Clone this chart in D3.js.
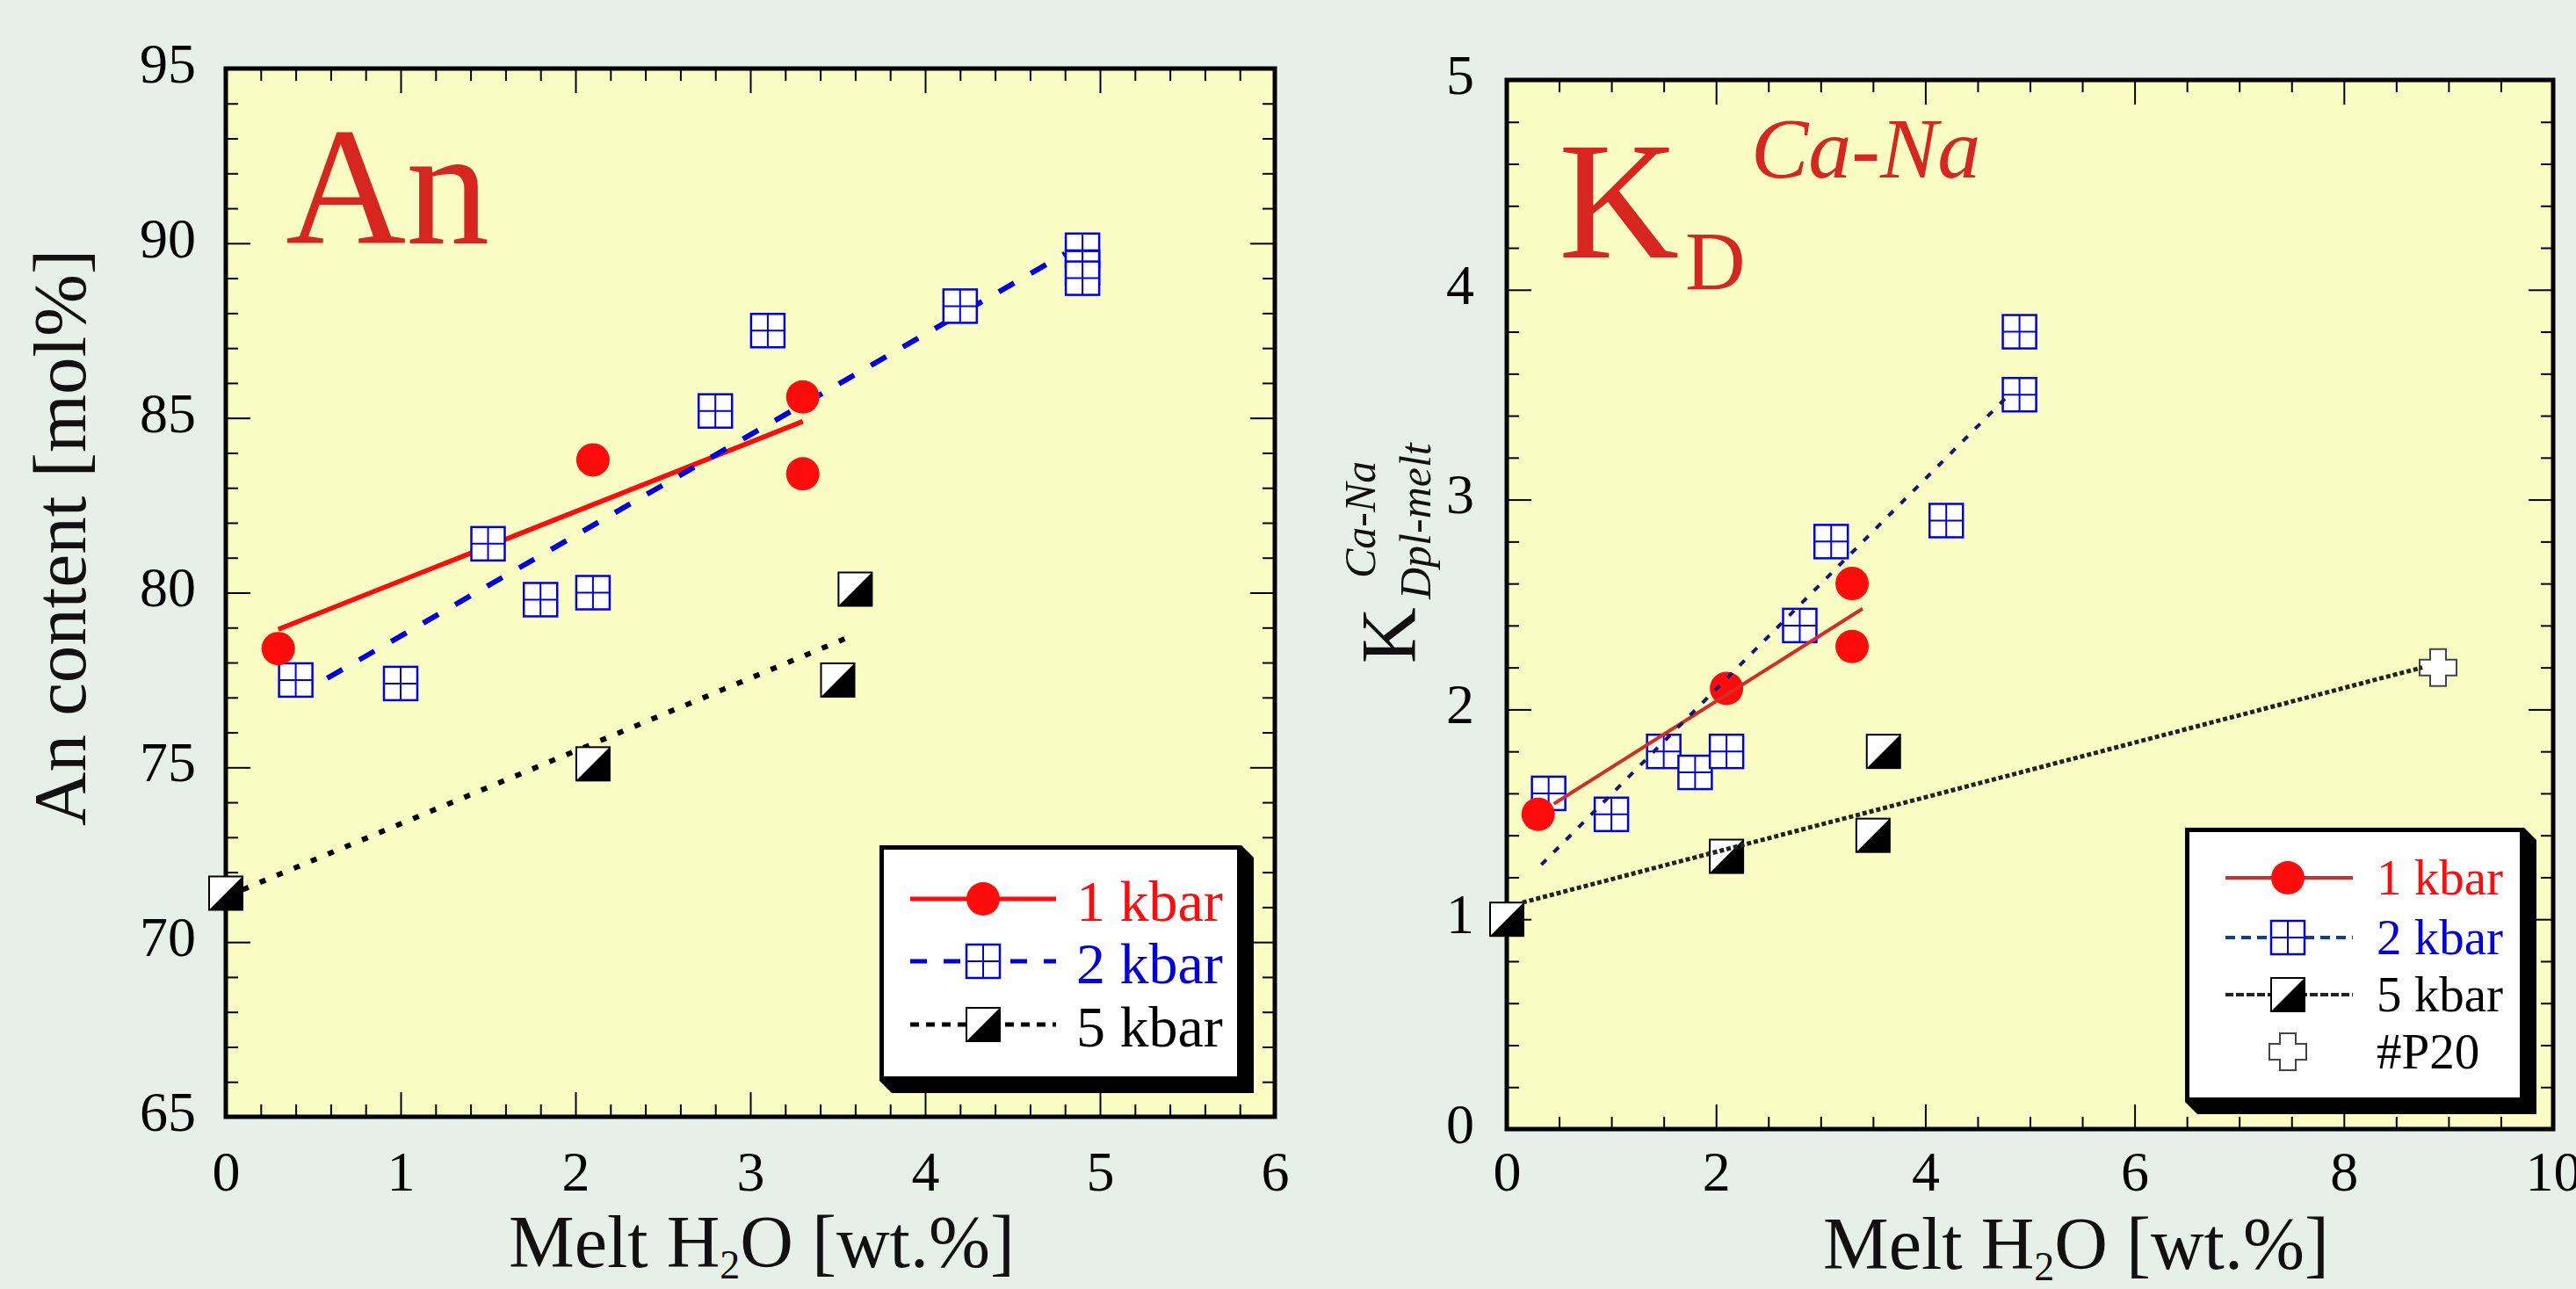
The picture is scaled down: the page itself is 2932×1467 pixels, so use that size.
<!DOCTYPE html>
<html>
<head>
<meta charset="utf-8">
<script src="https://cdn.jsdelivr.net/npm/d3@7"></script>
<style>
body { margin: 0; background: #e6f0e9; }
svg { display: block; }
</style>
</head>
<body>
<svg></svg>
<script>
// ---- left panel: An content ----
var anX1 = [0.3, 2.1, 3.3, 3.3];
var anY1 = [78.4, 83.8, 85.6, 83.4];
var anX2 = [0.4, 1.0, 1.5, 1.8, 2.1, 2.8, 3.1, 4.2, 4.9, 4.9, 4.9];
var anY2 = [77.5, 77.4, 81.4, 79.8, 80.0, 85.2, 87.5, 88.2, 89.8, 89.3, 89.0];
var anX5 = [0.0, 2.1, 3.5, 3.6];
var anY5 = [71.4, 75.1, 77.5, 80.1];
// fitted lines (start, end)
var anFitX1 = [0.3, 3.3], anFitY1 = [78.95, 84.9];
var anFitX2 = [0.58, 4.8], anFitY2 = [77.55, 89.7];
var anFitX5 = [0.0, 3.55], anFitY5 = [71.3, 78.7];
var anXTicks = [0, 1, 2, 3, 4, 5, 6];
var anYTicks = [65, 70, 75, 80, 85, 90, 95];
var anLegend = ["1 kbar", "2 kbar", "5 kbar"];

// ---- right panel: KD Ca-Na ----
var kdX1 = [0.3, 2.1, 3.3, 3.3];
var kdY1 = [1.5, 2.1, 2.6, 2.3];
var kdX2 = [0.4, 1.0, 1.5, 1.8, 2.1, 2.8, 3.1, 4.2, 4.9, 4.9];
var kdY2 = [1.6, 1.5, 1.8, 1.7, 1.8, 2.4, 2.8, 2.9, 3.5, 3.8];
var kdX5 = [0.0, 2.1, 3.5, 3.6];
var kdY5 = [1.0, 1.3, 1.4, 1.8];
var kdXP20 = [8.9];
var kdYP20 = [2.2];
var kdFitX1 = [0.45, 3.4], kdFitY1 = [1.55, 2.48];
var kdFitX2 = [0.33, 4.8], kdFitY2 = [1.26, 3.5];
var kdFitX5 = [0.15, 8.75], kdFitY5 = [1.08, 2.2];
var kdXTicks = [0, 2, 4, 6, 8, 10];
var kdYTicks = [0, 1, 2, 3, 4, 5];
var kdLegend = ["1 kbar", "2 kbar", "5 kbar", "#P20"];

var serif = "'Liberation Serif', 'Times New Roman', serif";
var red = "#ff0b0b", blue = "#0000dd", title = "#d7261f";

var svg = d3.select("svg")
    .attr("width", 2932)
    .attr("height", 1467);

svg.append("rect")
    .attr("width", 2932)
    .attr("height", 1467)
    .attr("fill", "#e6f0e9");

var anXScale = d3.scaleLinear().domain([0, 6]).range([257, 1451]);
var anYScale = d3.scaleLinear().domain([65, 95]).range([1271, 78]);
var kdXScale = d3.scaleLinear().domain([0, 10]).range([1715, 2906]);
var kdYScale = d3.scaleLinear().domain([0, 5]).range([1285, 91]);

var minorTicks = function(lo, hi, step, majors)
{
    var n = Math.round((hi - lo) / step);
    return d3.range(n + 1)
        .map(function(i){ return +(lo + i * step).toFixed(3); })
        .filter(function(v){ return majors.indexOf(v) < 0; });
}

var setupPanel = function(xScale, yScale, xTicks, xStep, yTicks, yStep, padX, padY)
{
    var left = xScale.range()[0], right = xScale.range()[1];
    var bottom = yScale.range()[0], top = yScale.range()[1];
    var xMinor = minorTicks(xScale.domain()[0], xScale.domain()[1], xStep, xTicks);
    var yMinor = minorTicks(yScale.domain()[0], yScale.domain()[1], yStep, yTicks);
    var fmt = d3.format("d");

    var panel = svg.append("g");
    panel.append("rect")
        .attr("x", left)
        .attr("y", top)
        .attr("width", right - left)
        .attr("height", bottom - top)
        .attr("fill", "#f9fdc3");

    var axes = panel.append("g").classed("axis", true);

    axes.append("g")
        .attr("transform", "translate(0," + bottom + ")")
        .call(d3.axisBottom(xScale).tickValues(xTicks).tickFormat(fmt).tickSizeInner(-28).tickSizeOuter(0).tickPadding(padX));
    axes.append("g")
        .attr("transform", "translate(0," + bottom + ")")
        .call(d3.axisBottom(xScale).tickValues(xMinor).tickSizeInner(-14).tickSizeOuter(0).tickFormat(""));
    axes.append("g")
        .attr("transform", "translate(0," + top + ")")
        .call(d3.axisTop(xScale).tickValues(xTicks).tickSizeInner(-28).tickSizeOuter(0).tickFormat(""));
    axes.append("g")
        .attr("transform", "translate(0," + top + ")")
        .call(d3.axisTop(xScale).tickValues(xMinor).tickSizeInner(-14).tickSizeOuter(0).tickFormat(""));

    var yAxis = axes.append("g")
        .attr("transform", "translate(" + left + ",0)")
        .call(d3.axisLeft(yScale).tickValues(yTicks).tickFormat(fmt).tickSizeInner(-28).tickSizeOuter(0).tickPadding(padY));
    axes.append("g")
        .attr("transform", "translate(" + left + ",0)")
        .call(d3.axisLeft(yScale).tickValues(yMinor).tickSizeInner(-14).tickSizeOuter(0).tickFormat(""));
    axes.append("g")
        .attr("transform", "translate(" + right + ",0)")
        .call(d3.axisRight(yScale).tickValues(yTicks).tickSizeInner(-28).tickSizeOuter(0).tickFormat(""));
    axes.append("g")
        .attr("transform", "translate(" + right + ",0)")
        .call(d3.axisRight(yScale).tickValues(yMinor).tickSizeInner(-14).tickSizeOuter(0).tickFormat(""));

    axes.selectAll(".domain").remove();
    axes.selectAll("line").attr("stroke", "#000").attr("stroke-width", 2);
    axes.selectAll("text")
        .attr("font-family", serif)
        .attr("font-size", 64)
        .attr("fill", "#000");
    yAxis.selectAll("text").attr("dy", "0.24em");

    panel.append("rect")
        .attr("x", left)
        .attr("y", top)
        .attr("width", right - left)
        .attr("height", bottom - top)
        .attr("fill", "none")
        .attr("stroke", "#000")
        .attr("stroke-width", 5);

    return panel;
}

// ---- markers ----
var markerCircle = function(g)
{
    g.append("circle").attr("r", 19).attr("fill", red);
}
var markerGrid = function(g)
{
    g.append("rect")
        .attr("x", -19).attr("y", -19).attr("width", 38).attr("height", 38)
        .attr("fill", "#fff").attr("stroke", "#0000e6").attr("stroke-width", 2.5);
    g.append("path")
        .attr("d", "M0,-19V19M-19,0H19")
        .attr("stroke", "#0000e6").attr("stroke-width", 2);
}
var markerHalf = function(g)
{
    g.append("rect")
        .attr("x", -19).attr("y", -19).attr("width", 38).attr("height", 38)
        .attr("fill", "#fff").attr("stroke", "#000").attr("stroke-width", 2);
    g.append("path")
        .attr("d", "M-19,19L19,-19L19,19Z")
        .attr("fill", "#000");
}
var markerCross = function(g)
{
    var a = 9, s = 21;
    g.append("path")
        .attr("d", "M" + (-a) + "," + (-s) + "H" + a + "V" + (-a) + "H" + s + "V" + a + "H" + a +
            "V" + s + "H" + (-a) + "V" + a + "H" + (-s) + "V" + (-a) + "H" + (-a) + "Z")
        .attr("fill", "#fff").attr("stroke", "#444").attr("stroke-width", 2);
}

var drawPoints = function(layer, xs, ys, xScale, yScale, marker)
{
    var pts = layer.append("g")
        .selectAll("g")
        .data(d3.zip(xs, ys))
        .enter()
        .append("g")
        .attr("transform", function(d)
        {
            return "translate(" + xScale(d[0]) + "," + yScale(d[1]) + ")";
        });
    marker(pts);
}

var drawFit = function(layer, xs, ys, xScale, yScale, style)
{
    var lineGenerator = d3.line()
        .x(function(d){ return xScale(d[0]); })
        .y(function(d){ return yScale(d[1]); });
    layer.append("path")
        .datum(d3.zip(xs, ys))
        .attr("d", lineGenerator)
        .attr("fill", "none")
        .attr("stroke", style.color)
        .attr("stroke-width", style.width)
        .attr("stroke-dasharray", style.dash);
}

var drawLegend = function(box, rowY, labels, colors, styles, markers, font, lx0, lx1, mx, tx, base)
{
    var lg = svg.append("g");
    var x0 = box[0], y0 = box[1], x1 = box[2], y1 = box[3], off = 14;
    lg.append("polygon")
        .attr("points", [[x0, y1], [x0 + off, y1 + off], [x1 + off, y1 + off], [x1 + off, y0 + off], [x1, y0]].join(" "))
        .attr("fill", "#000");
    lg.append("rect")
        .attr("x", x0 + 2.5).attr("y", y0 + 2.5)
        .attr("width", x1 - x0 - 5).attr("height", y1 - y0 - 5)
        .attr("fill", "#fff").attr("stroke", "#000").attr("stroke-width", 5);
    labels.forEach(function(label, i)
    {
        var y = rowY[i];
        if (styles[i])
        {
            lg.append("line")
                .attr("x1", lx0).attr("x2", lx1).attr("y1", y).attr("y2", y)
                .attr("stroke", styles[i].color)
                .attr("stroke-width", styles[i].width)
                .attr("stroke-dasharray", styles[i].dash);
        }
        markers[i](lg.append("g").attr("transform", "translate(" + mx + "," + y + ")"));
        lg.append("text")
            .attr("x", tx).attr("y", y + base)
            .attr("font-family", serif)
            .attr("font-size", font)
            .attr("fill", colors[i])
            .text(label);
    });
}

// ---- left panel ----
var anPanel = setupPanel(anXScale, anYScale, anXTicks, 0.2, anYTicks, 1, 39, 34);
var anLayer = svg.append("g");
drawFit(anLayer, anFitX1, anFitY1, anXScale, anYScale, {color: red, width: 5.5, dash: null});
drawFit(anLayer, anFitX2, anFitY2, anXScale, anYScale, {color: blue, width: 6, dash: "20,22"});
drawFit(anLayer, anFitX5, anFitY5, anXScale, anYScale, {color: "#000", width: 6, dash: "7,14"});
drawPoints(anLayer, anX2, anY2, anXScale, anYScale, markerGrid);
drawPoints(anLayer, anX5, anY5, anXScale, anYScale, markerHalf);
drawPoints(anLayer, anX1, anY1, anXScale, anYScale, markerCircle);

svg.append("text")
    .attr("x", 325).attr("y", 277)
    .attr("font-family", serif).attr("font-size", 190).attr("fill", title)
    .text("An");

svg.append("text")
    .attr("transform", "translate(97,940) rotate(-90)")
    .attr("font-family", serif).attr("font-size", 85).attr("fill", "#111")
    .text("An content [mol%]");

var anXTitle = svg.append("text")
    .attr("x", 579).attr("y", 1442)
    .attr("font-family", serif).attr("font-size", 84).attr("fill", "#111");
anXTitle.append("tspan").text("Melt H");
anXTitle.append("tspan").attr("font-size", 46).attr("dy", 13).text("2");
anXTitle.append("tspan").attr("dy", -13).text("O [wt.%]");

drawLegend([1001, 962, 1413, 1230], [1023, 1094, 1166], anLegend, [red, blue, "#000"],
    [{color: red, width: 5, dash: null}, {color: blue, width: 5, dash: "19,19"}, {color: "#000", width: 5, dash: "10,8"}],
    [markerCircle, markerGrid, markerHalf], 66, 1036, 1202, 1119, 1225, 25);

// ---- right panel ----
var kdPanel = setupPanel(kdXScale, kdYScale, kdXTicks, 0.5, kdYTicks, 0.2, 25, 37);
var kdLayer = svg.append("g");
drawPoints(kdLayer, kdX2, kdY2, kdXScale, kdYScale, markerGrid);
drawPoints(kdLayer, kdX5, kdY5, kdXScale, kdYScale, markerHalf);
drawPoints(kdLayer, kdX1, kdY1, kdXScale, kdYScale, markerCircle);
drawPoints(kdLayer, kdXP20, kdYP20, kdXScale, kdYScale, markerCross);
drawFit(kdLayer, kdFitX1, kdFitY1, kdXScale, kdYScale, {color: "#d42d27", width: 4, dash: null});
drawFit(kdLayer, kdFitX2, kdFitY2, kdXScale, kdYScale, {color: "#16167a", width: 4, dash: "8,12"});
drawFit(kdLayer, kdFitX5, kdFitY5, kdXScale, kdYScale, {color: "#222", width: 5, dash: "5,3"});

svg.append("text")
    .attr("x", 1774).attr("y", 293)
    .attr("font-family", serif).attr("font-size", 190).attr("fill", title)
    .text("K");
svg.append("text")
    .attr("x", 1918).attr("y", 330)
    .attr("font-family", serif).attr("font-size", 95).attr("fill", title)
    .text("D");
svg.append("text")
    .attr("x", 1993).attr("y", 202)
    .attr("font-family", serif).attr("font-size", 98).attr("font-style", "italic").attr("fill", title)
    .text("Ca-Na");

var kdYTitle = svg.append("g")
    .attr("transform", "translate(1610,755) rotate(-90)")
    .attr("font-family", serif)
    .attr("fill", "#111");
kdYTitle.append("text").attr("font-size", 88).text("K");
kdYTitle.append("text").attr("x", 73).attr("y", 18).attr("font-size", 50).attr("font-style", "italic").text("Dpl-melt");
kdYTitle.append("text").attr("x", 97).attr("y", -45).attr("font-size", 50).attr("font-style", "italic").text("Ca-Na");

var kdXTitle = svg.append("text")
    .attr("x", 2075).attr("y", 1444)
    .attr("font-family", serif).attr("font-size", 84).attr("fill", "#111");
kdXTitle.append("tspan").text("Melt H");
kdXTitle.append("tspan").attr("font-size", 46).attr("dy", 13).text("2");
kdXTitle.append("tspan").attr("dy", -13).text("O [wt.%]");

drawLegend([2487, 942, 2873, 1254], [999, 1067, 1132, 1197], kdLegend, [red, blue, "#000", "#000"],
    [{color: "#d42d27", width: 4, dash: null}, {color: "#0b3ea0", width: 4, dash: "11,7"}, {color: "#222", width: 4, dash: "9,3"}, null],
    [markerCircle, markerGrid, markerHalf, markerCross], 57, 2533, 2678, 2604, 2705, 19);
</script>
</body>
</html>
